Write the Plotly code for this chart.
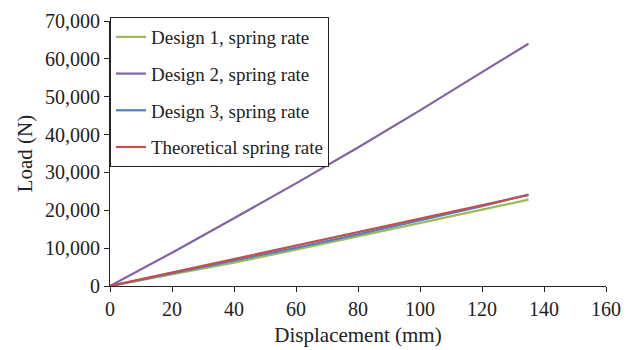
import plotly.graph_objects as go

displacement = [0, 20, 40, 60, 80, 100, 120, 135]
design1 = [0, 3060, 6170, 9580, 13040, 16600, 20160, 22830]
design2 = [0, 8800, 17900, 27100, 36600, 46400, 56500, 64000]
design3 = [0, 3310, 6620, 10080, 13640, 17350, 21110, 24130]
theoretical = [0, 3560, 7120, 10680, 14240, 17800, 21360, 24030]

series = [
    ("Design 1, spring rate", design1, "#9BBB59"),
    ("Design 2, spring rate", design2, "#8064A2"),
    ("Design 3, spring rate", design3, "#4F81BD"),
    ("Theoretical spring rate", theoretical, "#C0504D"),
]

FONT = "Liberation Serif, Times New Roman, serif"

fig = go.Figure()
for i, (name, vals, col) in enumerate(series):
    fig.add_trace(go.Scatter(
        x=displacement, y=vals, mode="lines", name=name,
        line=dict(color=col, width=2.2), legendgroup=f"g{i}",
    ))

fig.update_layout(
    width=625, height=342,
    margin=dict(l=102, r=27, t=9, b=64),
    paper_bgcolor="white", plot_bgcolor="white",
    font=dict(family=FONT, size=20, color="#222"),
    showlegend=True,
    legend=dict(
        x=0.0, y=1.015, xanchor="left", yanchor="top",
        bgcolor="white", bordercolor="#222", borderwidth=1,
        font=dict(family=FONT, size=19, color="#222"),
        tracegroupgap=9, itemwidth=30,
        traceorder="grouped",
    ),
    xaxis=dict(
        range=[0, 160], dtick=20, tick0=0,
        showline=True, linecolor="#222", linewidth=1,
        ticks="outside", ticklen=5, tickcolor="#222",
        showgrid=False, zeroline=False, automargin=False,
        title=dict(text="Displacement (mm)", font=dict(size=21), standoff=8),
        tickfont=dict(size=20),
    ),
    yaxis=dict(
        range=[0, 70000], dtick=10000, tick0=0, tickformat=",d",
        showline=True, linecolor="#222", linewidth=1,
        ticks="outside", ticklen=5, tickcolor="#222",
        showgrid=False, zeroline=False, automargin=False,
        title=dict(text="Load (N)", font=dict(size=21), standoff=6),
        tickfont=dict(size=20),
    ),
)

fig.write_html("out.html")
